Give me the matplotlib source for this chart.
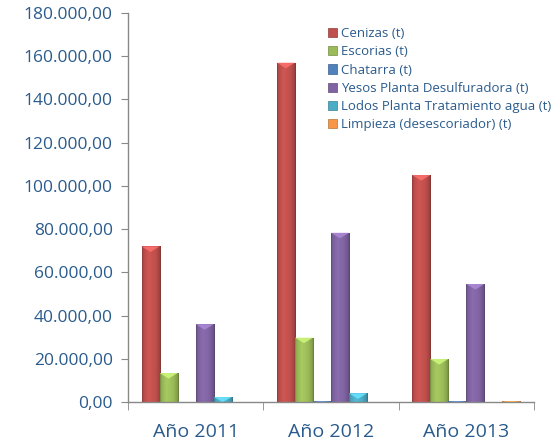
import matplotlib
matplotlib.use("Agg")
import matplotlib.pyplot as plt
import matplotlib.colors as mcolors
import numpy as np

categories = ["Año 2011", "Año 2012", "Año 2013"]
series_names = ["Cenizas (t)", "Escorias (t)", "Chatarra (t)",
                "Yesos Planta Desulfuradora (t)", "Lodos Planta Tratamiento agua (t)",
                "Limpieza (desescoriador) (t)"]
cenizas = [72000, 157000, 105000]
escorias = [13400, 29800, 19900]
chatarra = [0, 300, 300]
yesos = [36000, 78300, 54600]
lodos = [2300, 4000, 0]
limpieza = [0, 0, 400]
values = [cenizas, escorias, chatarra, yesos, lodos, limpieza]
colors = ["#C0504D", "#9BBB59", "#4F81BD", "#8064A2", "#4BACC6", "#F79646"]
yticks = [0, 20000, 40000, 60000, 80000, 100000, 120000, 140000, 160000, 180000]

text_color = "#2A5B8C"
plt.rcParams['font.family'] = ['Open Sans', 'DejaVu Sans']

fig = plt.figure(figsize=(5.53, 4.43), dpi=100)
ax = fig.add_axes([128/553, 1-402/443, (534-128)/553, (402-13)/443])

x = np.arange(len(categories))
w = 0.1333
offsets = (np.arange(6) - 2.5) * w

# horizontal shading profile across a bar (bevel look)
prof_pos = np.linspace(0, 1, 64)
shade = np.interp(prof_pos, [0, 0.08, 0.35, 0.7, 0.92, 1.0], [0.72, 0.95, 1.08, 1.0, 0.85, 0.65])

for i, (vals, c, name) in enumerate(zip(values, colors, series_names)):
    rgb = np.array(mcolors.to_rgb(c))
    bars = ax.bar(x + offsets[i], vals, width=w, color=c, edgecolor=tuple(rgb * 0.75),
                  linewidth=0.5, label=name)
    for b in bars:
        h = b.get_height()
        if h <= 0:
            continue
        x0 = b.get_x()
        bw = b.get_width()
        img = np.clip(rgb[None, :] * shade[:, None], 0, 1)[None, :, :]
        im = ax.imshow(img, extent=[x0, x0 + bw, 0, h], aspect='auto', origin='lower',
                       interpolation='bilinear', zorder=b.get_zorder() + 0.1)
        im.set_clip_path(b)
        # lighter pyramid cap
        cap_h = min(h, 2600)
        tri = plt.Polygon([[x0, h], [x0 + bw, h], [x0 + bw / 2, h - cap_h]], closed=True,
                          facecolor=tuple(np.clip(rgb * 1.25 + 0.05, 0, 1)), edgecolor='none',
                          zorder=b.get_zorder() + 0.2, alpha=0.85)
        ax.add_patch(tri)

ax.set_xlim(-0.5, 2.5)
ax.set_ylim(0, 180000)
ax.set_yticks(yticks)
ax.set_yticklabels([f"{v:,.2f}".replace(",", "X").replace(".", ",").replace("X", ".") for v in yticks],
                   fontsize=12.5, color=text_color)
ax.set_xticks(x)
ax.set_xticklabels(categories, fontsize=14, color=text_color)
ax.set_xticks([-0.5, 0.5, 1.5, 2.5], minor=True)
ax.tick_params(axis='x', which='major', length=0, pad=15)
ax.tick_params(axis='x', which='minor', length=6, color="#888888", direction='out')
ax.tick_params(axis='y', length=5, color="#888888", direction='out', pad=6)
for s in ["top", "right"]:
    ax.spines[s].set_visible(False)
for s in ["left", "bottom"]:
    ax.spines[s].set_color("#888888")
    ax.spines[s].set_linewidth(1)
    ax.spines[s].set_zorder(5)

leg = ax.legend(loc="upper left", frameon=False, fontsize=9.5, handlelength=0.7, handleheight=0.7,
                handletextpad=0.3, labelspacing=0.4, borderpad=0, borderaxespad=0)
leg.set_bbox_to_anchor((328/553, 1-27/443), transform=fig.transFigure)
for t in leg.get_texts():
    t.set_color(text_color)

fig.savefig("out.png", dpi=100)
